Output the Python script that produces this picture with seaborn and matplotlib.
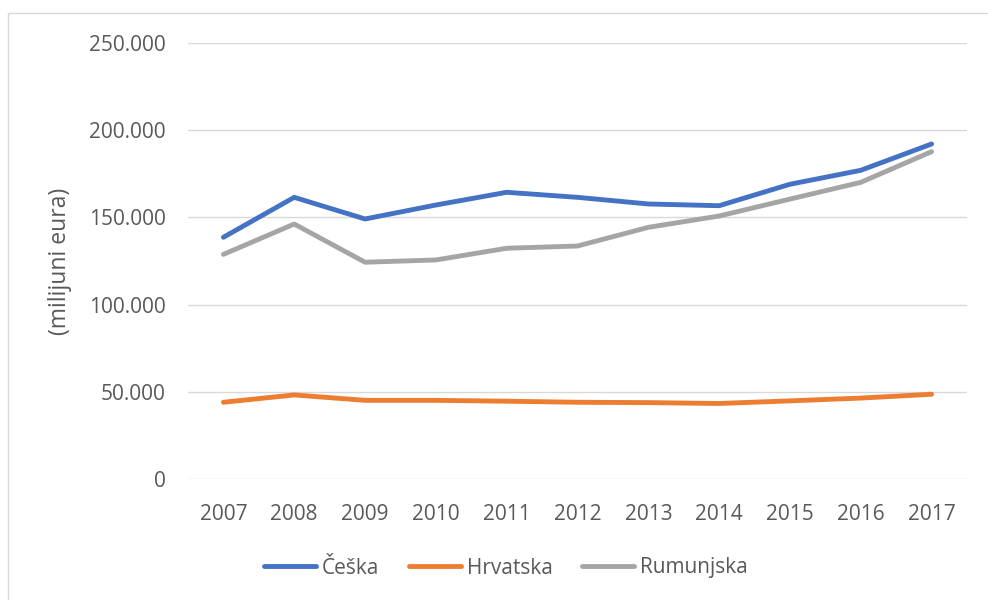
import pandas as pd
import matplotlib.pyplot as plt
import matplotlib.patches as patches
import matplotlib.ticker as ticker
import seaborn as sns

years = [2007, 2008, 2009, 2010, 2011, 2012, 2013, 2014, 2015, 2016, 2017]
ceska = [138600, 161500, 149100, 157100, 164400, 161500, 157700, 156700, 169000, 177000, 192100]
hrvatska = [44000, 48200, 45100, 45100, 44600, 44000, 43800, 43300, 44800, 46400, 48600]
rumunjska = [128800, 146200, 124300, 125600, 132300, 133600, 144300, 150800, 160500, 170100, 187700]
countries = ["Češka", "Hrvatska", "Rumunjska"]
colors = ["#4472C4", "#ED7D31", "#A5A5A5"]

df = pd.DataFrame({
    "godina": [str(y) for y in years] * 3,
    "vrijednost": ceska + hrvatska + rumunjska,
    "zemlja": [c for c in countries for _ in years],
})

sns.set_style("white")
plt.rcParams["font.family"] = ["Open Sans", "DejaVu Sans"]

fig = plt.figure(figsize=(9.88, 6), dpi=100)
ax = fig.add_axes([188/988, 1-479/600, (967-188)/988, (479-43)/600])

sns.lineplot(data=df, x="godina", y="vrijednost", hue="zemlja", palette=colors,
             linewidth=3.5, ax=ax, legend=False, sort=False)
for line in ax.lines:
    line.set_solid_capstyle("round")
    line.set_solid_joinstyle("round")

ax.set_xlim(-0.5, 10.5)
ax.set_ylim(0, 250000)
ax.yaxis.set_major_locator(ticker.MultipleLocator(50000))
ax.yaxis.set_major_formatter(ticker.FuncFormatter(lambda v, p: f"{int(v):,}".replace(",", ".")))
ax.grid(axis="y", color="#D9D9D9", linewidth=1)
ax.set_axisbelow(True)
for s in ax.spines.values():
    s.set_visible(False)
ax.tick_params(axis="y", length=0, pad=16, labelsize=15, labelcolor="#595959")
ax.tick_params(axis="x", length=0, pad=18, labelsize=15, labelcolor="#595959")
ax.set_xlabel("")
ax.set_ylabel("(milijuni eura)", fontsize=16.5, color="#595959", labelpad=12)

handles = [plt.Line2D([], [], color=c, linewidth=3.5, solid_capstyle="round") for c in colors]
fig.legend(handles, countries, loc="center", bbox_to_anchor=(506/988, 1-568/600),
           ncol=3, frameon=False, fontsize=15, handlelength=2.5, handletextpad=0.3,
           columnspacing=1.4, labelcolor="#595959")

fig.patches.append(patches.Rectangle((8/988, -0.1), 1.2, 1.1 - 13/600,
                                     transform=fig.transFigure, fill=False,
                                     edgecolor="#D9D9D9", linewidth=1))

plt.savefig("out.png", dpi=100)
